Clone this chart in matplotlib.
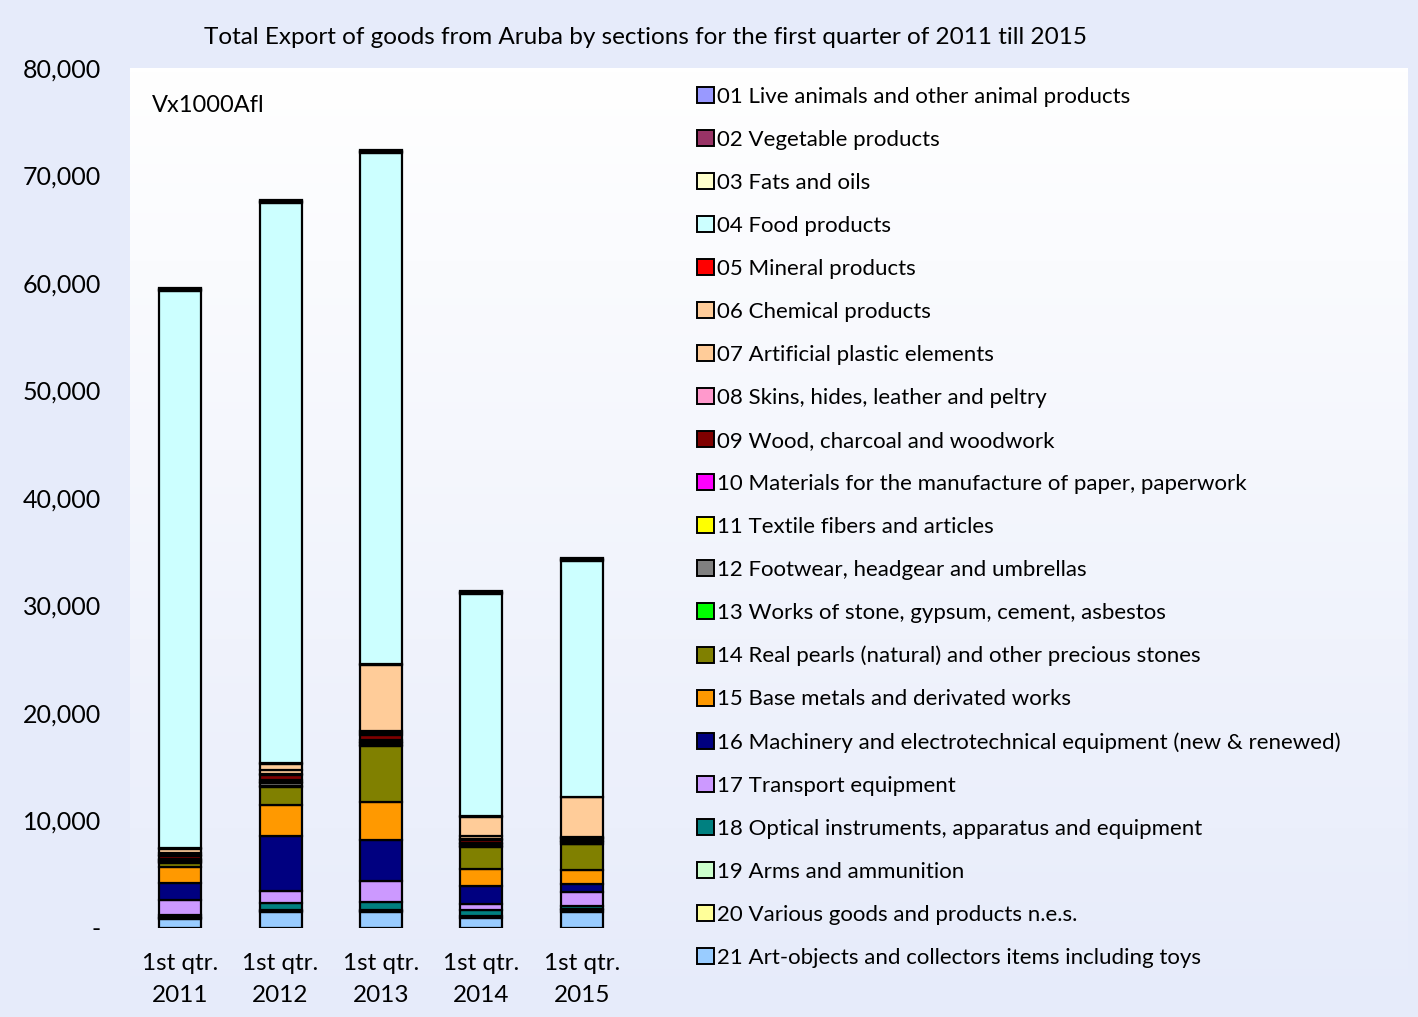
import numpy as np
import matplotlib
matplotlib.use("Agg")
import matplotlib.pyplot as plt
from matplotlib.patches import Patch

plt.rcParams['font.family'] = ['Lato', 'DejaVu Sans']

categories = ["1st qtr.\n2011", "1st qtr.\n2012", "1st qtr.\n2013", "1st qtr.\n2014", "1st qtr.\n2015"]

sections = [
    "01 Live animals and other animal products",
    "02 Vegetable products",
    "03 Fats and oils",
    "04 Food products",
    "05 Mineral products",
    "06 Chemical products",
    "07 Artificial plastic elements",
    "08 Skins, hides, leather and peltry",
    "09 Wood, charcoal and woodwork",
    "10 Materials for the manufacture of paper, paperwork",
    "11 Textile fibers and articles",
    "12 Footwear, headgear and umbrellas",
    "13 Works of stone, gypsum, cement, asbestos",
    "14 Real pearls (natural) and other precious stones",
    "15 Base metals and derivated works",
    "16 Machinery and electrotechnical equipment (new & renewed)",
    "17 Transport equipment",
    "18 Optical instruments, apparatus and equipment",
    "19 Arms and ammunition",
    "20 Various goods and products n.e.s.",
    "21 Art-objects and collectors items including toys",
]

colors = ["#9999FF", "#993366", "#FFFFCC", "#CCFFFF", "#FF0000", "#FFCC99",
          "#FFCC99", "#FF99CC", "#800000", "#FF00FF", "#FFFF00", "#808080",
          "#00FF00", "#808000", "#FF9900", "#000080", "#CC99FF", "#008080",
          "#CCFFCC", "#FFFF99", "#99CCFF"]

# values (x1000 Afl) per section, for 2011..2015
s01 = [80, 100, 100, 80, 100]
s02 = [80, 100, 100, 80, 100]
s03 = [60, 80, 80, 70, 100]
s04 = [51880, 52130, 47540, 20700, 21950]
s05 = [50, 80, 50, 50, 50]
s06 = [390, 550, 6200, 1800, 3660]
s07 = [200, 350, 160, 220, 80]
s08 = [120, 150, 150, 120, 110]
s09 = [250, 450, 480, 250, 200]
s10 = [100, 200, 200, 100, 80]
s11 = [60, 80, 80, 60, 50]
s12 = [150, 250, 250, 150, 120]
s13 = [60, 80, 80, 60, 60]
s14 = [370, 1730, 5180, 2050, 2390]
s15 = [1450, 2880, 3500, 1580, 1330]
s16 = [1580, 5050, 3850, 1730, 710]
s17 = [1460, 1170, 1980, 590, 1270]
s18 = [200, 620, 750, 470, 280]
s19 = [50, 100, 80, 90, 160]
s20 = [90, 100, 100, 100, 150]
s21 = [840, 1490, 1460, 970, 1490]

series = [s01, s02, s03, s04, s05, s06, s07, s08, s09, s10, s11, s12, s13,
          s14, s15, s16, s17, s18, s19, s20, s21]

W, H = 1418, 1017
fig = plt.figure(figsize=(W / 100, H / 100), dpi=100)
fig.patch.set_facecolor("#E6EBFA")

# background gradient panel (white at top fading to lavender)
bg = fig.add_axes([130 / W, 0, (1408 - 130) / W, (H - 68) / H], zorder=0)
grad = np.linspace(0, 1, 256).reshape(-1, 1)
top = np.array([1.0, 1.0, 1.0])
bot = np.array([0xE6, 0xEB, 0xFA]) / 255
img = top[None, None, :] * (1 - grad[:, :, None]) + bot[None, None, :] * grad[:, :, None]
bg.imshow(img, aspect="auto", extent=[0, 1, 0, 1])
bg.set_axis_off()

ax = fig.add_axes([130 / W, (H - 928) / H, (632 - 130) / W, (928 - 68) / H], zorder=1)
ax.patch.set_alpha(0)

x = np.arange(len(categories))
bottom = np.zeros(len(categories))
order = list(range(len(series)))[::-1]  # 21 at the bottom, 01 at top
for i in order:
    vals = np.array(series[i], dtype=float)
    ax.bar(x, vals, 0.42, bottom=bottom, color=colors[i], edgecolor="black",
           linewidth=1.6, zorder=2)
    bottom += vals

ax.set_xlim(-0.5, 4.5)
ax.set_ylim(0, 80000)
ax.set_yticks(np.arange(0, 80001, 10000))
ax.set_yticklabels(["-"] + [f"{v:,}" for v in range(10000, 80001, 10000)])
ax.set_xticks(x)
ax.set_xticklabels(categories, linespacing=1.62)
ax.tick_params(axis="both", length=0)
ax.tick_params(axis="y", pad=21, labelsize=18)
ax.tick_params(axis="x", pad=18, labelsize=17.5)
for sp in ax.spines.values():
    sp.set_visible(False)

ax.text(22 / 502, 1 - 38 / 860, "Vx1000Afl", transform=ax.transAxes,
        fontsize=17, va="center", ha="left")

fig.text(645 / W, 1 - 38 / H,
         "Total Export of goods from Aruba by sections for the first quarter of 2011 till 2015",
         ha="center", va="center", fontsize=17.5)

handles = [Patch(facecolor=colors[i], edgecolor="black", linewidth=1.4) for i in range(len(sections))]
leg = fig.legend(handles, sections, loc="upper left",
                 bbox_to_anchor=(688 / W, 1 - 78 / H), frameon=False,
                 fontsize=16, handlelength=0.75, handleheight=0.75,
                 handletextpad=0.15, labelspacing=1.035, borderaxespad=0)

fig.savefig("out.png", dpi=100, facecolor=fig.get_facecolor())
